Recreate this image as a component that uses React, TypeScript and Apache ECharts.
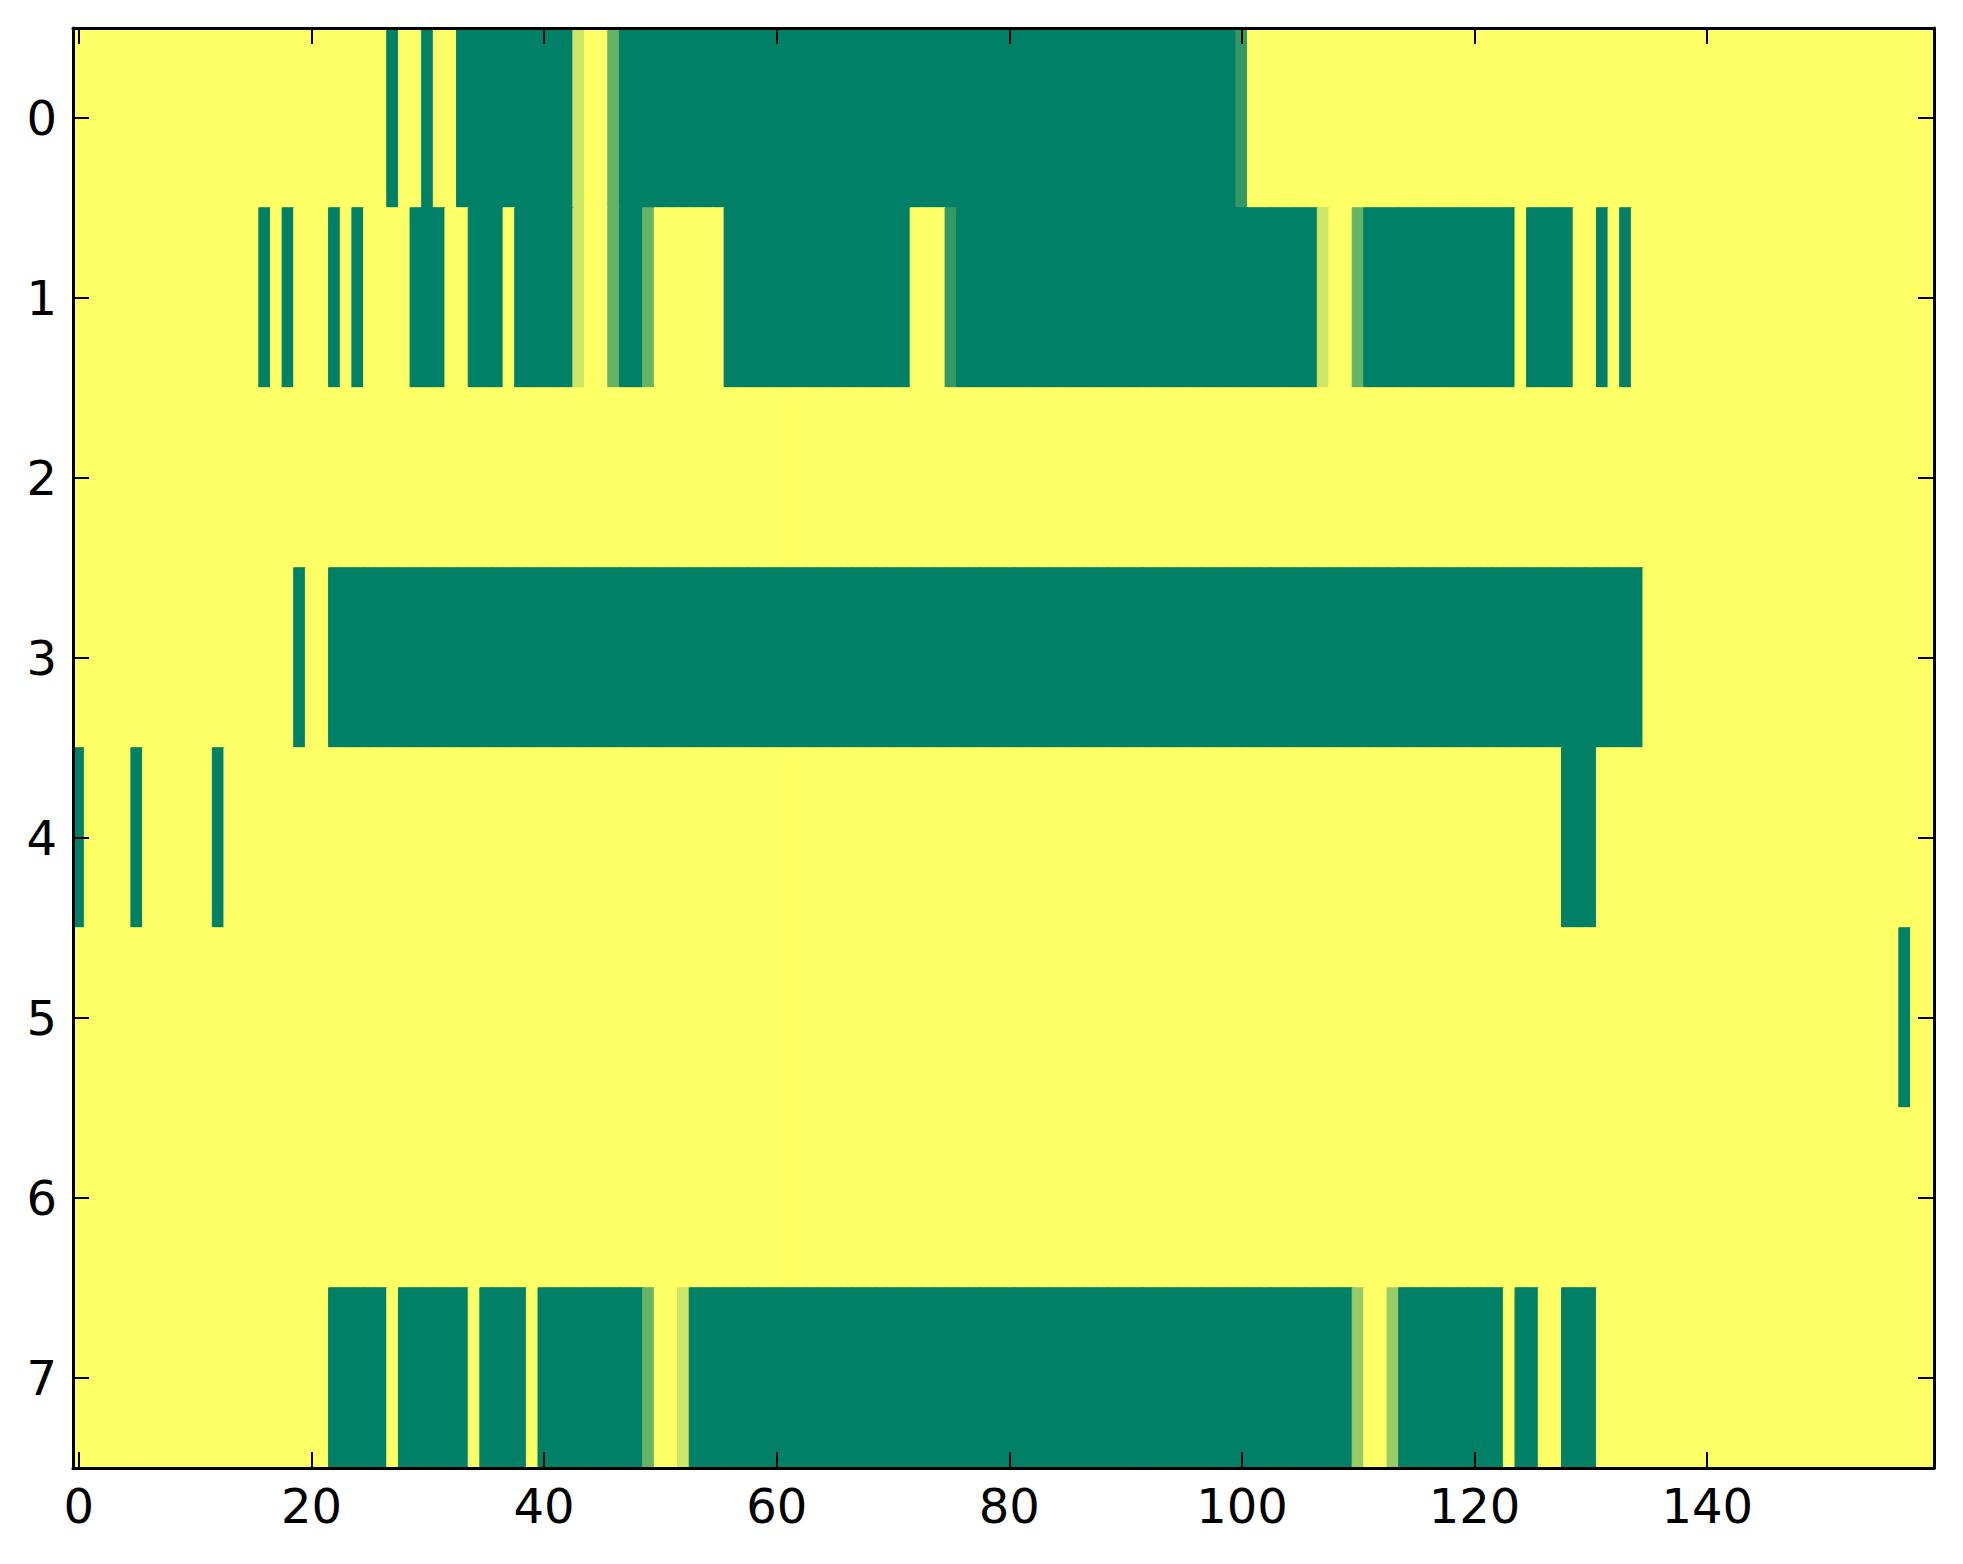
import React, { useEffect, useRef } from "react";
import * as echarts from "echarts";

// rows of the matrix, top to bottom
const rowLabels = ["0", "1", "2", "3", "4", "5", "6", "7"];
const columnCount = 160;
const xTickValues = [0, 20, 40, 60, 80, 100, 120, 140];

// each row is read left to right as [value, number of cells]
const row0: [number, number][] = [
    [1, 27], [0, 1], [1, 2], [0, 1], [1, 2], [0, 10], [0.8, 1], [1, 2], [0.4, 1],
    [0, 53], [0.2, 1], [1, 59],
];
const row1: [number, number][] = [
    [1, 16], [0, 1], [1, 1], [0, 1], [1, 3], [0, 1], [1, 1], [0, 1], [1, 4], [0, 3],
    [1, 2], [0, 3], [1, 1], [0, 5], [0.8, 1], [1, 2], [0.4, 1], [0, 2], [0.4, 1],
    [1, 6], [0, 16], [1, 3], [0.2, 1], [0, 31], [0.8, 1], [1, 2], [0.4, 1], [0, 13],
    [1, 1], [0, 4], [1, 2], [0, 1], [1, 1], [0, 1], [1, 26],
];
const row2: [number, number][] = [[1, 160]];
const row3: [number, number][] = [[1, 19], [0, 1], [1, 2], [0, 113], [1, 25]];
const row4: [number, number][] = [
    [0, 1], [1, 4], [0, 1], [1, 6], [0, 1], [1, 115], [0, 3], [1, 29],
];
const row5: [number, number][] = [[1, 157], [0, 1], [1, 2]];
const row6: [number, number][] = [[1, 160]];
const row7: [number, number][] = [
    [1, 22], [0, 5], [1, 1], [0, 6], [1, 1], [0, 4], [1, 1], [0, 9], [0.4, 1], [1, 2],
    [0.8, 1], [0, 57], [0.6, 1], [1, 2], [0.6, 1], [0, 9], [1, 1], [0, 2], [1, 2],
    [0, 3], [1, 29],
];
const rows = [row0, row1, row2, row3, row4, row5, row6, row7];

const xCategories = Array.from({ length: columnCount }, (_, i) => String(i));

// "summer" colormap: green (0) -> yellow (1)
const LOW = "#008066";
const HIGH = "#ffff66";
const summer = (v: number) => {
    const r = Math.round(255 * v);
    const g = Math.round(255 * (0.5 + v / 2));
    const b = Math.round(255 * 0.4);
    return `rgb(${r},${g},${b})`;
};

const heatData: any[] = [];
rows.forEach((runs, y) => {
    let x = 0;
    runs.forEach(([v, n]) => {
        for (let i = 0; i < n; i++) {
            // border in the cell's own colour hides the seams between cells
            heatData.push({ value: [x, y, v], itemStyle: { borderColor: summer(v), borderWidth: 1 } });
            x++;
        }
    });
});

const FONT = "DejaVu Sans";
const showTick = (i: number) => xTickValues.includes(i);

const App: React.FC = () => {
    const ref = useRef<HTMLDivElement>(null);

    useEffect(() => {
        document.body.style.margin = "0";
        if (!ref.current) return;
        const chart = echarts.init(ref.current, null, { renderer: "svg" });

        const line = { show: true, onZero: false, lineStyle: { color: "#000", width: 3 } };
        const tick = { show: true, inside: true, alignWithLabel: true, length: 16, lineStyle: { color: "#000", width: 2 } };
        const label = { fontSize: 48, fontFamily: FONT, color: "#000" };

        chart.setOption({
            animation: false,
            grid: { left: 73, top: 28, width: 1861, height: 1440 },
            xAxis: [
                {
                    type: "category",
                    data: xCategories,
                    position: "bottom",
                    z: 10,
                    axisLine: line,
                    axisTick: { ...tick, interval: showTick },
                    axisLabel: { ...label, interval: showTick, margin: 14 },
                    splitLine: { show: false },
                },
                {
                    type: "category",
                    data: xCategories,
                    position: "top",
                    z: 10,
                    axisLine: line,
                    axisTick: { ...tick, interval: showTick },
                    axisLabel: { show: false },
                    splitLine: { show: false },
                },
            ],
            yAxis: [
                {
                    type: "category",
                    data: rowLabels,
                    inverse: true,
                    position: "left",
                    z: 10,
                    axisLine: line,
                    axisTick: tick,
                    axisLabel: { ...label, margin: 16 },
                    splitLine: { show: false },
                },
                {
                    type: "category",
                    data: rowLabels,
                    inverse: true,
                    position: "right",
                    z: 10,
                    axisLine: line,
                    axisTick: tick,
                    axisLabel: { show: false },
                    splitLine: { show: false },
                },
            ],
            visualMap: {
                show: false,
                min: 0,
                max: 1,
                seriesIndex: 0,
                inRange: { color: [LOW, HIGH] },
            },
            series: [
                {
                    type: "heatmap",
                    xAxisIndex: 0,
                    yAxisIndex: 0,
                    data: heatData,
                    emphasis: { disabled: true },
                },
            ],
        });

        return () => {
            chart.dispose();
        };
    }, []);

    return <div ref={ref} style={{ width: 1963, height: 1564 }} />;
};

export default App;
